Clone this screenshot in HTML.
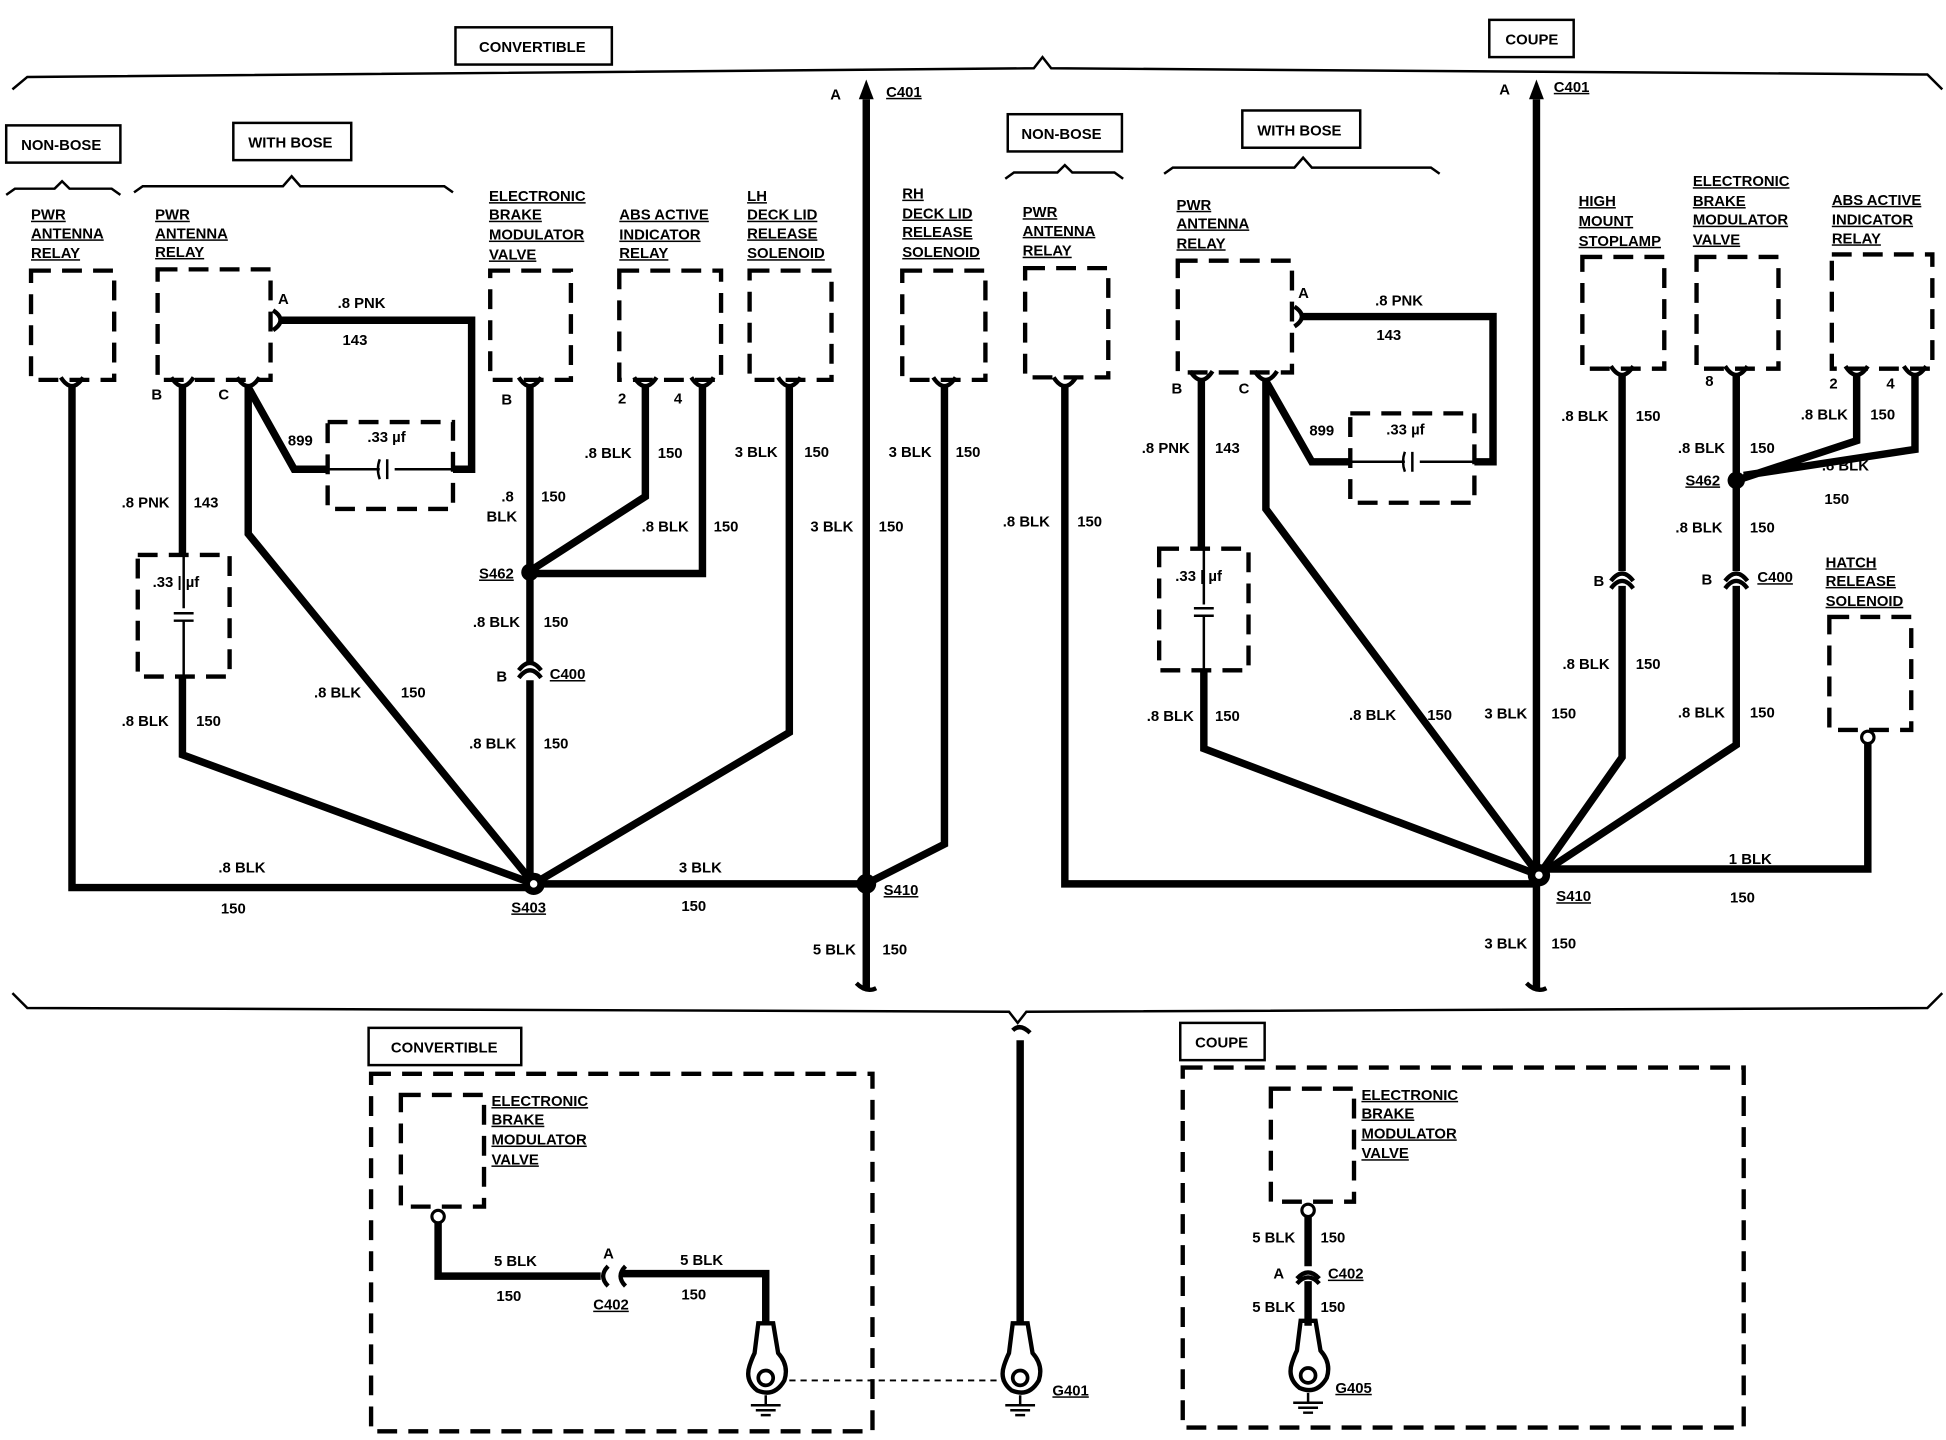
<!DOCTYPE html>
<html><head><meta charset="utf-8"><style>
html,body{margin:0;padding:0;background:#fff;}
svg{display:block}
text{font-family:"Liberation Sans",sans-serif;font-weight:bold;font-size:12px;fill:#000}
.u{text-decoration:underline}
.w{fill:none;stroke:#000;stroke-width:6;stroke-linejoin:miter}
.d{fill:none;stroke:#000;stroke-width:3.5;stroke-dasharray:16 9}
.t{fill:none;stroke:#000;stroke-width:2}
.c{fill:none;stroke:#000;stroke-width:3.5}
.lb{fill:#fff;stroke:#000;stroke-width:2}
</style></head><body>
<svg width="1946" height="1440" viewBox="0 0 1568 1160" preserveAspectRatio="none" xmlns="http://www.w3.org/2000/svg">
<path class="t" d="M10 72 L22 62 L833 55 L840 46 L847 55 L1553 60 L1565 72" stroke-width="2.5"/>
<path class="t" d="M10 800 L22 812 L813 815 L820 824 L827 815 L1553 812 L1565 800" stroke-width="2.5"/>
<path class="t" d="M5 157 L12 152 L44 152 L50 146 L56 152 L90 152 L97 157"/>
<path class="t" d="M108 155 L115 150 L228 150 L235 142 L242 150 L358 150 L365 155"/>
<path class="t" d="M810 144 L817 139 L852 139 L858 133 L864 139 L898 139 L905 144"/>
<path class="t" d="M938 140 L945 135 L1043 135 L1050 127 L1057 135 L1153 135 L1160 140"/>
<rect class="lb" x="367" y="22" width="126" height="30"/><text x="386" y="42">CONVERTIBLE</text>
<rect class="lb" x="1200" y="16" width="68" height="30"/><text x="1213" y="36">COUPE</text>
<rect class="lb" x="5" y="101" width="92" height="30"/><text x="17" y="121">NON-BOSE</text>
<rect class="lb" x="188" y="99" width="95" height="30"/><text x="200" y="119">WITH BOSE</text>
<rect class="lb" x="812" y="92" width="92" height="30"/><text x="823" y="112">NON-BOSE</text>
<rect class="lb" x="1001" y="89" width="95" height="30"/><text x="1013" y="109">WITH BOSE</text>
<rect class="lb" x="297" y="828" width="123" height="30"/><text x="315" y="848">CONVERTIBLE</text>
<rect class="lb" x="951" y="824" width="68" height="30"/><text x="963" y="844">COUPE</text>
<g class="d">
<rect x="25" y="218" width="67" height="88"/>
<rect x="127" y="217" width="91" height="89"/>
<rect x="395" y="218" width="65" height="88"/>
<rect x="499" y="218" width="82" height="88"/>
<rect x="604" y="218" width="66" height="88"/>
<rect x="727" y="218" width="67" height="88"/>
<rect x="826" y="216" width="67" height="88"/>
<rect x="949" y="210" width="92" height="90"/>
<rect x="1275" y="207" width="66" height="90"/>
<rect x="1367" y="207" width="66" height="90"/>
<rect x="1476" y="205" width="81" height="92"/>
<rect x="1474" y="497" width="66" height="91"/>
<rect x="264" y="340" width="101" height="70"/>
<rect x="111" y="447" width="74" height="98"/>
<rect x="1088" y="333" width="100" height="72"/>
<rect x="934" y="442" width="72" height="98"/>
<rect x="299" y="865" width="404" height="288"/>
<rect x="323" y="882" width="67" height="90"/>
<rect x="953" y="860" width="452" height="290"/>
<rect x="1024" y="877" width="67" height="91"/>
</g>
<g class="w">
<path d="M58 312 V715 H430"/>
<path d="M147 312 V447 M147 545 V608 L430 712"/>
<path d="M200 312 V430 L430 712"/>
<path d="M200 312 L237 378 H264 M365 378 H380 V258 H226"/>
<path d="M427 312 V535 M427 548 V712"/>
<path d="M520 312 V400 L427 460 M566 312 V462 H427"/>
<path d="M636 312 V590 L430 712"/>
<path d="M430 712 H698"/>
<path d="M761 312 V680 L698 712"/>
<path d="M698 80 V798"/>
<path d="M858 312 V712 H1240"/>
<path d="M968 307 V442 M970 540 V603 L1240 705"/>
<path d="M1020 307 V410 L1240 705"/>
<path d="M1020 307 L1057 372 H1088 M1188 372 H1203 V255 H1049"/>
<path d="M1307 302 V460 M1307 472 V610 L1240 705"/>
<path d="M1399 302 V460 M1399 472 V600 L1240 705"/>
<path d="M1496 302 V355 L1399 387 M1543 302 V362 L1405 383"/>
<path d="M1505 598 V700 H1240"/>
<path d="M1238 80 V798"/>
<path d="M353 985 V1028 H484"/>
<path d="M500 1026 H617 V1066"/>
<path d="M822 838 V1066"/>
<path d="M1054 980 V1020 M1054 1032 V1068"/>
</g>
<g class="t">
<path d="M264 378 H306 M318 378 H365"/><path d="M312 370 V386 M306 370 Q303 378 306 386"/>
<path d="M148 447 V490 M148 500 V545"/><path d="M140 494 H156 M140 500 H156"/>
<path d="M1088 372 H1132 M1144 372 H1188"/><path d="M1138 364 V380 M1132 364 Q1129 372 1132 380"/>
<path d="M970 442 V487 M970 497 V540"/><path d="M962 490 H978 M962 496 H978"/>
</g>
<path d="M692 80 L698 64 L704 80 Z"/><path d="M1232 80 L1238 64 L1244 80 Z"/>
<path class="c" d="M690 792 Q698 800 706 796 M816 830 Q822 824 830 832 M1230 792 Q1238 800 1246 796"/>
<g class="c">
<path d="M49 304 Q58 318 67 304"/>
<path d="M138 304 Q147 318 156 304"/><path d="M191 304 Q200 318 209 304"/>
<path d="M418 304 Q427 318 436 304"/>
<path d="M511 304 Q520 318 529 304"/><path d="M557 304 Q566 318 575 304"/>
<path d="M627 304 Q636 318 645 304"/><path d="M752 304 Q761 318 770 304"/>
<path d="M849 304 Q858 318 867 304"/>
<path d="M959 299 Q968 313 977 299"/><path d="M1011 299 Q1020 313 1029 299"/>
<path d="M1298 295 Q1307 309 1316 295"/><path d="M1390 295 Q1399 309 1408 295"/>
<path d="M1487 295 Q1496 309 1505 295"/><path d="M1534 295 Q1543 309 1552 295"/>
<path d="M220 250 Q232 258 220 266"/><path d="M1043 247 Q1055 255 1043 263"/>
<path d="M418 546 Q427 534 436 546"/><path d="M418 540 Q427 528 436 540"/>
<path d="M1298 474 Q1307 462 1316 474"/><path d="M1298 468 Q1307 456 1316 468"/>
<path d="M1390 474 Q1399 462 1408 474"/><path d="M1390 468 Q1399 456 1408 468"/>
<path d="M490 1020 Q482 1028 490 1036"/><path d="M504 1020 Q496 1028 504 1036"/>
<path d="M1045 1030 Q1054 1020 1063 1030"/><path d="M1045 1034 Q1054 1024 1063 1034"/>
</g>
<circle cx="430" cy="712" r="9"/><circle cx="430" cy="712" r="3" fill="#fff"/>
<circle cx="698" cy="712" r="8"/><circle cx="1240" cy="705" r="9"/><circle cx="1240" cy="705" r="3" fill="#fff"/>
<circle cx="427" cy="461" r="7"/><circle cx="1399" cy="387" r="7"/>
<circle cx="353" cy="980" r="5" fill="#fff" stroke="#000" stroke-width="2.5"/>
<circle cx="1054" cy="975" r="5" fill="#fff" stroke="#000" stroke-width="2.5"/>
<circle cx="1505" cy="594" r="5" fill="#fff" stroke="#000" stroke-width="2.5"/>
<g id="ey">
<path class="c" d="M611 1066 H623 L627 1090 Q636 1100 632 1112 Q624 1126 610 1120 Q600 1112 604 1100 Q606 1094 608 1090 Z" fill="#fff"/>
<circle cx="617" cy="1110" r="6" fill="none" stroke="#000" stroke-width="3"/>
<path class="t" d="M617 1124 V1132 M605 1132 H629 M609 1136 H625 M613 1140 H621"/>
</g>
<use href="#ey" x="205"/><use href="#ey" x="437" y="-2"/>
<path d="M636 1112 H810" stroke="#000" stroke-width="1.5" stroke-dasharray="5 4" fill="none"/>
<g class="u">
<text x="25" y="177">PWR</text><text x="25" y="192">ANTENNA</text><text x="25" y="208">RELAY</text>
<text x="125" y="177">PWR</text><text x="125" y="192">ANTENNA</text><text x="125" y="207">RELAY</text>
<text x="394" y="162">ELECTRONIC</text><text x="394" y="177">BRAKE</text><text x="394" y="193">MODULATOR</text><text x="394" y="209">VALVE</text>
<text x="499" y="177">ABS ACTIVE</text><text x="499" y="193">INDICATOR</text><text x="499" y="208">RELAY</text>
<text x="602" y="162">LH</text><text x="602" y="177">DECK LID</text><text x="602" y="192">RELEASE</text><text x="602" y="208">SOLENOID</text>
<text x="727" y="160">RH</text><text x="727" y="176">DECK LID</text><text x="727" y="191">RELEASE</text><text x="727" y="207">SOLENOID</text>
<text x="824" y="175">PWR</text><text x="824" y="190">ANTENNA</text><text x="824" y="206">RELAY</text>
<text x="948" y="169">PWR</text><text x="948" y="184">ANTENNA</text><text x="948" y="200">RELAY</text>
<text x="1272" y="166">HIGH</text><text x="1272" y="182">MOUNT</text><text x="1272" y="198">STOPLAMP</text>
<text x="1364" y="150">ELECTRONIC</text><text x="1364" y="166">BRAKE</text><text x="1364" y="181">MODULATOR</text><text x="1364" y="197">VALVE</text>
<text x="1476" y="165">ABS ACTIVE</text><text x="1476" y="181">INDICATOR</text><text x="1476" y="196">RELAY</text>
<text x="1471" y="457">HATCH</text><text x="1471" y="472">RELEASE</text><text x="1471" y="488">SOLENOID</text>
<text x="396" y="891">ELECTRONIC</text><text x="396" y="906">BRAKE</text><text x="396" y="922">MODULATOR</text><text x="396" y="938">VALVE</text>
<text x="1097" y="886">ELECTRONIC</text><text x="1097" y="901">BRAKE</text><text x="1097" y="917">MODULATOR</text><text x="1097" y="933">VALVE</text>
<text x="386" y="466">S462</text><text x="443" y="547">C400</text><text x="412" y="735">S403</text><text x="712" y="721">S410</text><text x="714" y="78">C401</text>
<text x="1252" y="74">C401</text><text x="1358" y="391">S462</text><text x="1416" y="469">C400</text><text x="1254" y="726">S410</text>
<text x="478" y="1055">C402</text><text x="848" y="1124">G401</text><text x="1070" y="1030">C402</text><text x="1076" y="1122">G405</text>
</g>
<text x="272" y="248">.8 PNK</text><text x="276" y="278">143</text><text x="224" y="245">A</text>
<text x="122" y="322">B</text><text x="176" y="322">C</text><text x="232" y="359">899</text><text x="296" y="356">.33 µf</text>
<text x="98" y="409">.8 PNK</text><text x="156" y="409">143</text><text x="123" y="473">.33 | µf</text>
<text x="98" y="585">.8 BLK</text><text x="158" y="585">150</text><text x="253" y="562">.8 BLK</text><text x="323" y="562">150</text>
<text x="404" y="326">B</text><text x="404" y="404">.8</text><text x="392" y="420">BLK</text><text x="436" y="404">150</text>
<text x="381" y="505">.8 BLK</text><text x="438" y="505">150</text><text x="400" y="549">B</text>
<text x="378" y="603">.8 BLK</text><text x="438" y="603">150</text>
<text x="498" y="325">2</text><text x="543" y="325">4</text>
<text x="471" y="369">.8 BLK</text><text x="530" y="369">150</text><text x="517" y="428">.8 BLK</text><text x="575" y="428">150</text>
<text x="592" y="368">3 BLK</text><text x="648" y="368">150</text><text x="653" y="428">3 BLK</text><text x="708" y="428">150</text>
<text x="716" y="368">3 BLK</text><text x="770" y="368">150</text>
<text x="176" y="703">.8 BLK</text><text x="178" y="736">150</text><text x="547" y="703">3 BLK</text><text x="549" y="734">150</text>
<text x="655" y="769">5 BLK</text><text x="711" y="769">150</text><text x="669" y="80">A</text>
<text x="1208" y="76">A</text><text x="1108" y="246">.8 PNK</text><text x="1109" y="274">143</text><text x="1046" y="240">A</text>
<text x="944" y="317">B</text><text x="998" y="317">C</text><text x="1055" y="351">899</text><text x="1117" y="350">.33 µf</text>
<text x="920" y="365">.8 PNK</text><text x="979" y="365">143</text><text x="947" y="468">.33 | µf</text>
<text x="924" y="581">.8 BLK</text><text x="979" y="581">150</text><text x="1087" y="580">.8 BLK</text><text x="1150" y="580">150</text>
<text x="1196" y="579">3 BLK</text><text x="1250" y="579">150</text><text x="808" y="424">.8 BLK</text><text x="868" y="424">150</text>
<text x="1258" y="339">.8 BLK</text><text x="1318" y="339">150</text><text x="1284" y="472">B</text>
<text x="1259" y="539">.8 BLK</text><text x="1318" y="539">150</text><text x="1374" y="311">8</text>
<text x="1352" y="365">.8 BLK</text><text x="1410" y="365">150</text><text x="1350" y="429">.8 BLK</text><text x="1410" y="429">150</text>
<text x="1371" y="471">B</text><text x="1352" y="578">.8 BLK</text><text x="1410" y="578">150</text>
<text x="1474" y="313">2</text><text x="1520" y="313">4</text><text x="1451" y="338">.8 BLK</text><text x="1507" y="338">150</text>
<text x="1468" y="379">.8 BLK</text><text x="1470" y="406">150</text>
<text x="1393" y="696">1 BLK</text><text x="1394" y="727">150</text><text x="1196" y="764">3 BLK</text><text x="1250" y="764">150</text>
<text x="398" y="1020">5 BLK</text><text x="400" y="1048">150</text><text x="486" y="1014">A</text>
<text x="548" y="1019">5 BLK</text><text x="549" y="1047">150</text>
<text x="1009" y="1001">5 BLK</text><text x="1064" y="1001">150</text><text x="1026" y="1030">A</text>
<text x="1009" y="1057">5 BLK</text><text x="1064" y="1057">150</text>
</svg>
</body></html>
